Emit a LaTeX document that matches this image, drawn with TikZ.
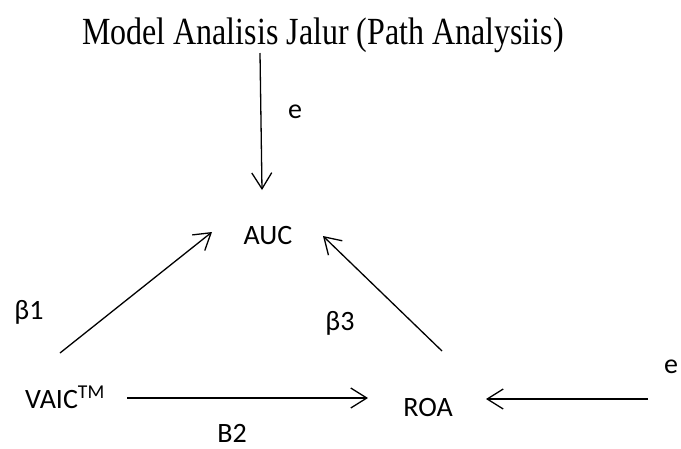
\documentclass[tikz,border=0pt]{standalone}
\usepackage{fontspec}
\setmainfont{Carlito}
\newfontfamily\titlefont{Liberation Serif}
\usetikzlibrary{arrows.meta}
\begin{document}
\begin{tikzpicture}[x=1pt,y=-1pt,
  conn/.style={line width=1.3pt,-{Straight Barb[length=16pt,width=20pt,line width=1.3pt]}},
  lbl/.style={inner sep=0pt,font=\fontsize{28}{32}\selectfont},
  ttl/.style={inner sep=0pt,font=\titlefont\fontsize{32}{36}\selectfont}]
\useasboundingbox[fill=white] (0,0) rectangle (681,448);
\node[ttl,anchor=base] (title) at (323,44) {\scalebox{1}[1.2]{Model Analisis Jalur (Path Analysiis)}};
\node[lbl] (auc) at (268,236) {AUC};
\node[lbl,anchor=base west] (vaic) at (25,408) {VAIC\textsuperscript{TM}};
\node[lbl,anchor=base] (roa) at (428,416) {ROA};
\node[lbl] (e1) at (295,112) {e};
\node[lbl] (e2) at (671,367) {e};
\node[lbl] (b1) at (29,312) {β1};
\node[lbl] (b3) at (340,323) {β3};
\node[lbl,anchor=base] (b2) at (232,442) {\raisebox{0pt}[\height][0pt]{B2}};
\coordinate (s1) at (260,53);
\coordinate (t1) at (262,190);
\coordinate (s2) at (60,353);
\coordinate (t2) at (212,232);
\coordinate (s3) at (442,351);
\coordinate (t3) at (323,236);
\coordinate (s4) at (127,398);
\coordinate (t4) at (368,398);
\coordinate (s5) at (648,399);
\coordinate (t5) at (486,399);
\draw[conn] (s1) -- (t1);
\draw[conn] (s2) -- (t2);
\draw[conn] (s3) -- (t3);
\draw[conn] (s4) -- (t4);
\draw[conn] (s5) -- (t5);
\end{tikzpicture}
\end{document}
